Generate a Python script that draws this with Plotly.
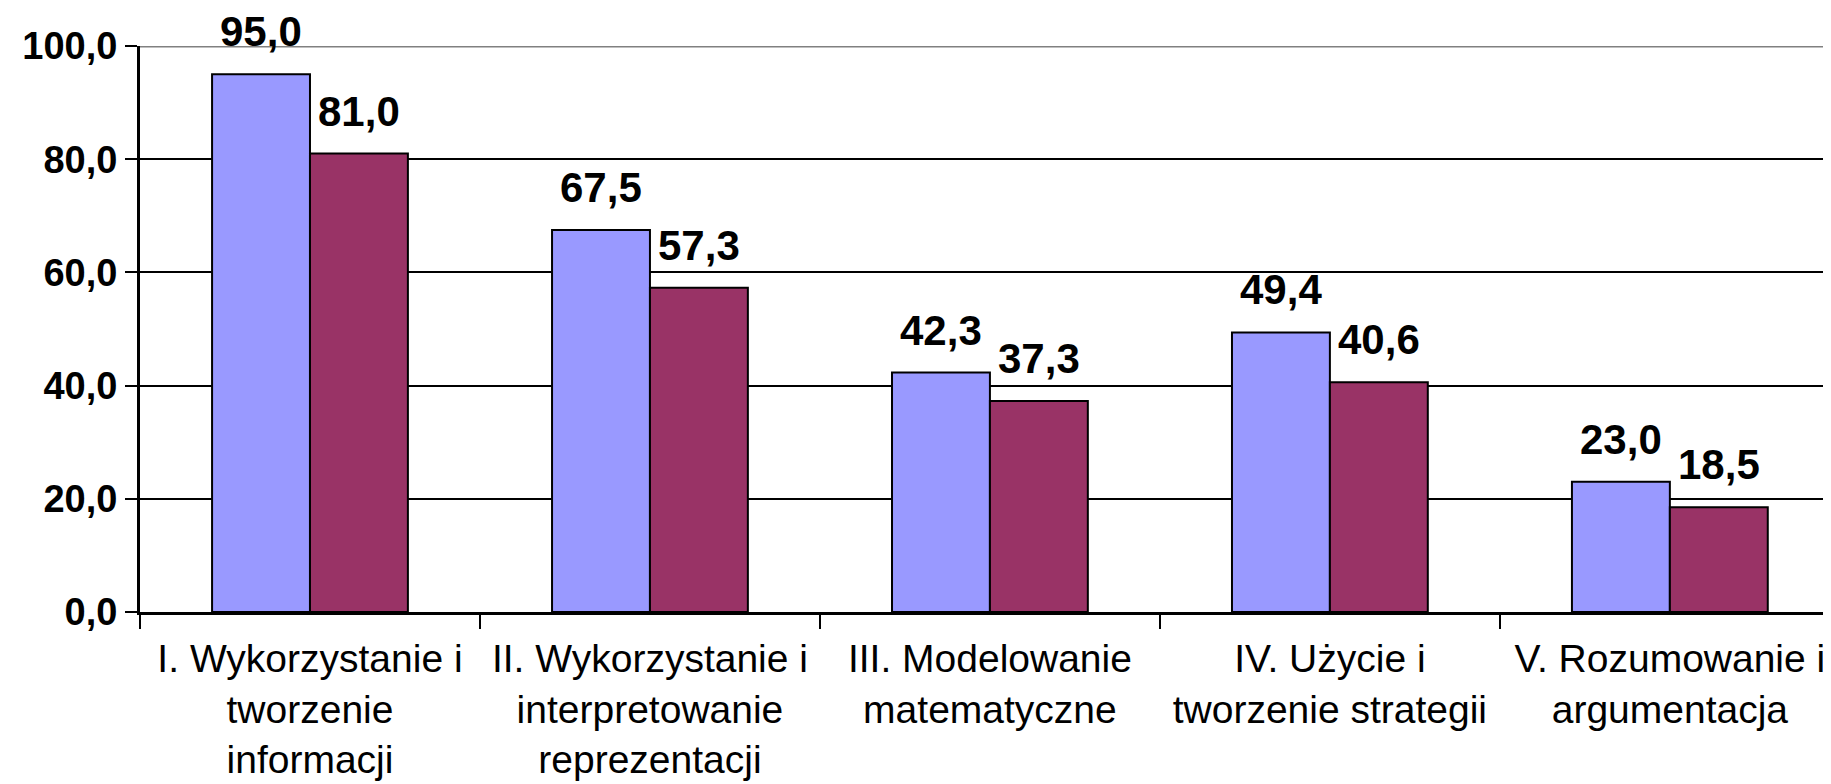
import plotly.graph_objects as go

# skill areas (categories) and the two series
categories = [
    "I. Wykorzystanie i<br>tworzenie<br>informacji",
    "II. Wykorzystanie i<br>interpretowanie<br>reprezentacji",
    "III. Modelowanie<br>matematyczne",
    "IV. Użycie i<br>tworzenie strategii",
    "V. Rozumowanie i<br>argumentacja",
]
series_a = [95.0, 67.5, 42.3, 49.4, 23.0]
series_b = [81.0, 57.3, 37.3, 40.6, 18.5]

y_ticks = [0, 20, 40, 60, 80, 100]

FONT = "Arial, Liberation Sans, sans-serif"
BLUE = "#9999FF"
PLUM = "#993366"
bargap = 0.424
half = (1 - bargap) / 4  # centre offset of each bar within its group

fig = go.Figure()
fig.add_trace(go.Bar(x=categories, y=series_a, marker=dict(color=BLUE, line=dict(color="black", width=2))))
fig.add_trace(go.Bar(x=categories, y=series_b, marker=dict(color=PLUM, line=dict(color="black", width=2))))

# value labels above the bars
for i, (a, b) in enumerate(zip(series_a, series_b)):
    for val, off in ((a, -half), (b, half)):
        fig.add_annotation(
            x=i + off, y=val, xref="x", yref="y",
            text=f"{val:.1f}".replace(".", ","),
            showarrow=False, yanchor="bottom", yshift=17,
            font=dict(family=FONT, size=42, color="black", weight="bold"),
        )

# grey top border of the plot area
fig.add_shape(type="line", xref="paper", yref="y", x0=0, x1=1, y0=100, y1=100,
              line=dict(color="#808080", width=3))

# page body has an 8px margin, so the figure is sized to fit the window
fig.update_layout(
    width=1823, height=776,
    margin=dict(l=132, r=0, t=38, b=172),
    plot_bgcolor="white", paper_bgcolor="white",
    barmode="group", bargap=bargap, bargroupgap=0,
    showlegend=False,
    separators=", ",
    font=dict(family=FONT, color="black"),
)
fig.update_xaxes(
    type="category", range=[-0.5, 4.474], automargin=False,
    tickson="boundaries", ticks="outside", ticklen=14, tickwidth=2, tickcolor="black",
    showline=True, linecolor="black", linewidth=3,
    showgrid=False, ticklabelstandoff=10,
    tickfont=dict(family=FONT, size=39, color="black"),
)
fig.update_yaxes(
    range=[0, 100], tickvals=y_ticks, tickformat=".1f", automargin=False,
    ticks="outside", ticklen=12, tickwidth=2, tickcolor="black",
    showline=True, linecolor="black", linewidth=3,
    showgrid=True, gridcolor="black", gridwidth=2,
    zeroline=False,
    tickfont=dict(family=FONT, size=38, color="black", weight="bold"),
)

fig.write_html("out.html")
